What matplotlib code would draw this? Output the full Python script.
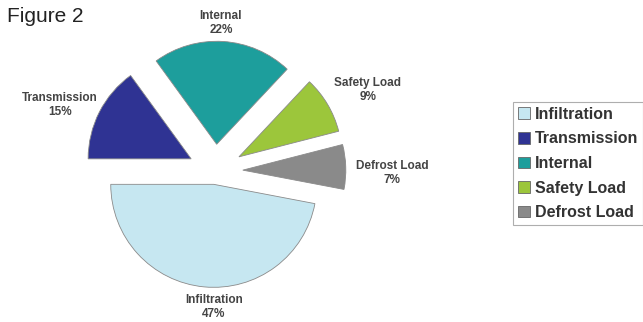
import matplotlib.pyplot as plt
from matplotlib.patches import Patch

labels = ["Infiltration", "Transmission", "Internal", "Safety Load", "Defrost Load"]
shares = [47, 15, 22, 9, 7]
colors = ["#c6e7f1", "#2f3393", "#1d9e9c", "#9cc63b", "#8a8a8a"]
explode = [0.13, 0.26, 0.26, 0.27, 0.27]

# order of wedges around the pie (counter-clockwise from 9 o'clock)
order = [0, 4, 3, 2, 1]

plt.rcParams["font.family"] = ["Liberation Sans", "DejaVu Sans"]

fig = plt.figure(figsize=(6.43, 3.22), dpi=100)
ax = fig.add_axes([0, 0, 1, 1])
ax.set_xlim(0, 643)
ax.set_ylim(0, 322)
ax.set_aspect("equal")

R = 103
ax.pie([shares[i] for i in order],
       colors=[colors[i] for i in order],
       explode=[explode[i] * R for i in order],
       startangle=180, counterclock=True,
       center=(215, 151), radius=R, frame=True,
       wedgeprops=dict(edgecolor="#8a8a8a", linewidth=0.6))
ax.axis("off")

# wedge labels (pixel positions, y from top)
label_pos = {
    "Infiltration": (214, 307),
    "Transmission": (60, 105),
    "Internal": (221, 23),
    "Safety Load": (368, 90),
    "Defrost Load": (392, 173),
}
for name, val in zip(labels, shares):
    x, y = label_pos[name]
    ax.text(x, 322 - y, f"{name}\n{val}%", ha="center", va="center",
            fontsize=8.5, fontweight="bold", color="#444444", linespacing=1.3)

fig.text(7 / 643, 1 - 17 / 322, "Figure 2", ha="left", va="center",
         fontsize=15, color="#222222")

handles = [Patch(facecolor=c, edgecolor="#666666", linewidth=0.6) for c in colors]
leg = fig.legend(handles, labels, loc="upper left",
                 bbox_to_anchor=(513 / 643, 1 - 102 / 322), borderaxespad=0,
                 frameon=True, fancybox=False, edgecolor="#9a9a9a",
                 handlelength=0.75, handleheight=0.75, handletextpad=0.3,
                 borderpad=0.3, labelspacing=0.6,
                 prop=dict(size=11.5, weight="bold"))
leg.get_frame().set_linewidth(0.8)
for t in leg.get_texts():
    t.set_color("#333333")

fig.savefig("out.png", dpi=100)
